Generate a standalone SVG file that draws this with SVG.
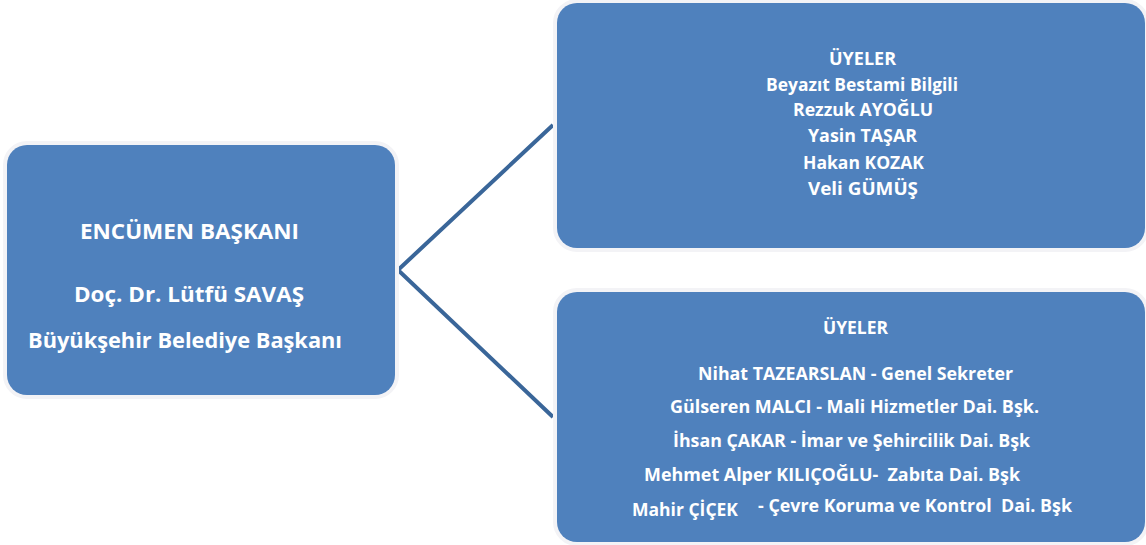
<svg xmlns="http://www.w3.org/2000/svg" width="1146" height="545" viewBox="0 0 1146 545">
<style>
.box{fill:#4f81bd;stroke:#f3f3f6;stroke-width:8;paint-order:stroke}
.t{font-family:"Open Sans",Lato,sans-serif;font-weight:bold;fill:#ffffff}
.l{font-size:21px}
.s{font-size:17px}
.m{font-size:18px}
.conn{stroke:#3a6699;stroke-width:4;fill:none}
</style>
<rect width="1146" height="545" fill="#ffffff"/>
<g id="connectors">
<path class="conn" d="M553,125 L398,270 L553,417"/>
</g>
<g id="node-baskan">
<rect class="box" x="7" y="145" width="388" height="250" rx="20"/>
<text class="t l" x="189.5" y="239" text-anchor="middle" textLength="219" lengthAdjust="spacingAndGlyphs">ENCÜMEN BAŞKANI</text>
<text class="t l" x="189" y="302" text-anchor="middle" textLength="230" lengthAdjust="spacingAndGlyphs">Doç. Dr. Lütfü SAVAŞ</text>
<text class="t l" x="185" y="348" text-anchor="middle" textLength="314" lengthAdjust="spacingAndGlyphs">Büyükşehir Belediye Başkanı</text>
</g>
<g id="node-uyeler1">
<rect class="box" x="557" y="3" width="588" height="245" rx="20"/>
<text class="t s" x="862.5" y="65" text-anchor="middle" textLength="67" lengthAdjust="spacingAndGlyphs">ÜYELER</text>
<text class="t s" x="862" y="91" text-anchor="middle" textLength="192" lengthAdjust="spacingAndGlyphs">Beyazıt Bestami Bilgili</text>
<text class="t s" x="863" y="116" text-anchor="middle" textLength="140" lengthAdjust="spacingAndGlyphs">Rezzuk AYOĞLU</text>
<text class="t s" x="862.5" y="142" text-anchor="middle" textLength="109" lengthAdjust="spacingAndGlyphs">Yasin TAŞAR</text>
<text class="t s" x="863.5" y="169" text-anchor="middle" textLength="121" lengthAdjust="spacingAndGlyphs">Hakan KOZAK</text>
<text class="t s" x="863" y="195" text-anchor="middle" textLength="110" lengthAdjust="spacingAndGlyphs">Veli GÜMÜŞ</text>
</g>
<g id="node-uyeler2">
<rect class="box" x="557" y="292" width="588" height="250" rx="20"/>
<text class="t s" x="855.5" y="334" text-anchor="middle" textLength="65" lengthAdjust="spacingAndGlyphs">ÜYELER</text>
<text class="t m" x="698" y="380" textLength="315" lengthAdjust="spacingAndGlyphs">Nihat TAZEARSLAN - Genel Sekreter</text>
<text class="t m" x="670" y="413" textLength="369" lengthAdjust="spacingAndGlyphs">Gülseren MALCI - Mali Hizmetler Dai. Bşk.</text>
<text class="t m" x="673" y="447" textLength="357" lengthAdjust="spacingAndGlyphs">İhsan ÇAKAR - İmar ve Şehircilik Dai. Bşk</text>
<text class="t m" x="644" y="481" textLength="376" lengthAdjust="spacingAndGlyphs" xml:space="preserve">Mehmet Alper KILIÇOĞLU-  Zabıta Dai. Bşk</text>
<text class="t m" x="632" y="516" textLength="106" lengthAdjust="spacingAndGlyphs">Mahir ÇİÇEK</text>
<text class="t m" x="758" y="512" textLength="314" lengthAdjust="spacingAndGlyphs" xml:space="preserve">- Çevre Koruma ve Kontrol  Dai. Bşk</text>
</g>
</svg>
